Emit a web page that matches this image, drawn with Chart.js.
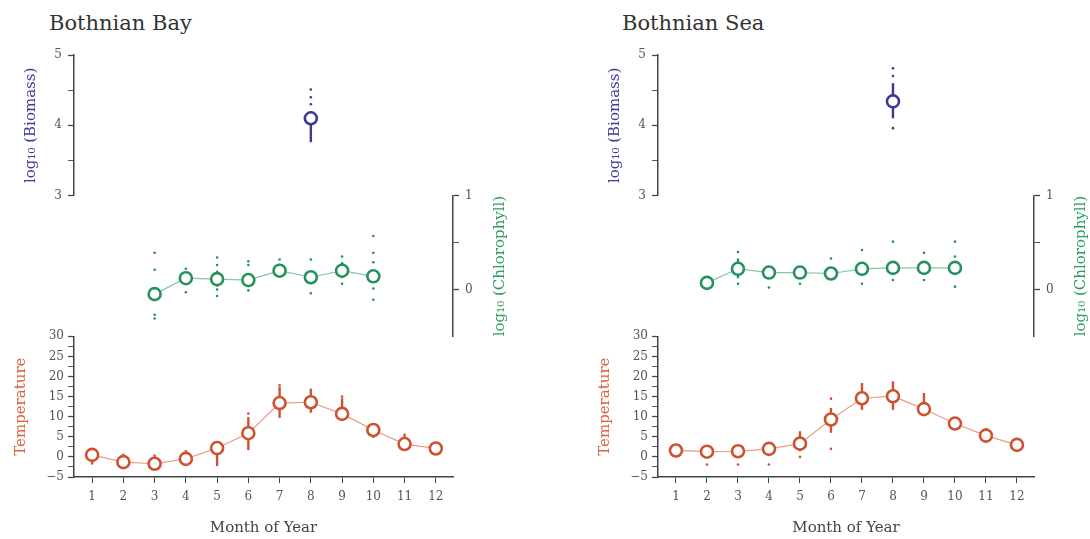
<!DOCTYPE html>
<html>
<head>
<meta charset="utf-8">
<script src="https://cdn.jsdelivr.net/npm/chart.js@4"></script>
<style>
  body { margin: 0; background: #fff; width: 1090px; height: 539px; overflow: hidden; position: relative; font-family: "DejaVu Serif", serif; }
  canvas { position: absolute; top: 0; }
  .titulo { position: absolute; top: 11px; font-size: 21px; color: #333; }
</style>
</head>
<body>
<div class="titulo" style="left:49px">Bothnian Bay</div>
<div class="titulo" style="left:622px">Bothnian Sea</div>
<canvas id="bay" width="545" height="539" style="left:0"></canvas>
<canvas id="sea" width="545" height="539" style="left:545px"></canvas>
<script>
// 1. DADOS
const meses = [1, 2, 3, 4, 5, 6, 7, 8, 9, 10, 11, 12];

// Bothnian Bay
const bayTemp   = [0.5, -1.3, -1.7, -0.5, 2.2, 5.9, 13.4, 13.6, 10.7, 6.7, 3.2, 2.1];
const bayTempLo = [-1.9, -2.5, -3.0, -1.5, -2.3, 1.7, 9.7, 11.0, 9.0, 4.7, 1.8, 0.8];
const bayTempHi = [1.8, 0.8, 0.6, 1.7, 3.9, 9.9, 17.4, 17.0, 14.6, 8.4, 5.8, 3.5];
const bayTempPts = [[6, 10.8], [7, 17.8], [9, 15.0]];

const bayChlMeses = [3, 4, 5, 6, 7, 8, 9, 10];
const bayChl   = [-0.05, 0.12, 0.11, 0.10, 0.20, 0.13, 0.20, 0.14];
const bayChlLo = [-0.09, 0.06, 0.03, 0.04, 0.15, 0.08, 0.12, 0.08];
const bayChlHi = [-0.01, 0.18, 0.20, 0.17, 0.26, 0.19, 0.28, 0.20];
const bayChlPts = [[3, 0.39], [3, 0.21], [3, -0.27], [3, -0.31], [4, 0.22], [4, -0.03],
  [5, 0.34], [5, 0.26], [5, 0.0], [5, -0.07], [6, 0.30], [6, 0.26], [6, -0.01],
  [7, 0.32], [7, 0.26], [8, 0.32], [8, -0.04], [9, 0.35], [9, 0.28], [9, 0.06],
  [10, 0.57], [10, 0.39], [10, 0.29], [10, 0.01], [10, -0.11]];

const bayBioMeses = [8];
const bayBio   = [4.10];
const bayBioLo = [3.76];
const bayBioHi = [4.20];
const bayBioPts = [[8, 4.30], [8, 4.40], [8, 4.51]];

// Bothnian Sea
const seaTemp   = [1.6, 1.3, 1.4, 2.0, 3.3, 9.3, 14.6, 15.1, 11.9, 8.3, 5.3, 3.0];
const seaTempLo = [0.2, 0.4, 0.4, 1.0, 1.4, 6.0, 11.7, 11.7, 10.5, 6.8, 3.6, 2.2];
const seaTempHi = [3.0, 2.5, 2.5, 3.0, 6.4, 12.2, 18.4, 18.8, 15.9, 9.9, 7.2, 4.3];
const seaTempPts = [[2, -1.9], [3, -1.9], [4, -1.9], [5, 0.0], [6, 14.5], [6, 2.0]];

const seaChlMeses = [2, 3, 4, 5, 6, 7, 8, 9, 10];
const seaChl   = [0.07, 0.22, 0.18, 0.18, 0.17, 0.22, 0.23, 0.23, 0.23];
const seaChlLo = [0.07, 0.12, 0.12, 0.12, 0.11, 0.16, 0.17, 0.16, 0.16];
const seaChlHi = [0.07, 0.33, 0.24, 0.24, 0.23, 0.28, 0.29, 0.30, 0.30];
const seaChlPts = [[3, 0.40], [3, 0.06], [4, 0.02], [5, 0.06], [6, 0.33], [7, 0.42], [7, 0.06],
  [8, 0.51], [8, 0.10], [9, 0.39], [9, 0.10], [10, 0.51], [10, 0.35], [10, 0.03]];

const seaBioMeses = [8];
const seaBio   = [4.34];
const seaBioLo = [4.10];
const seaBioHi = [4.60];
const seaBioPts = [[8, 4.70], [8, 4.81], [8, 3.96]];

// eixos
const tempTicks = [-5, 0, 5, 10, 15, 20, 25, 30];
const chlTicks = [0, 1];
const bioTicks = [3, 4, 5];

// cores
const AZUL = '#3b3b96';
const VERDE = '#23935a', VERDE_LINHA = '#86c8a2';
const VERMELHO = '#cc5230', VERMELHO_LINHA = '#eb9b82';
const EIXO = '#444';
const FONTE = '"DejaVu Serif", serif';

// Plugin: barras de erro (desenhadas antes dos pontos)
const barrasErro = {
  id: 'barrasErro',
  beforeDatasetsDraw(chart) {
    const ctx = chart.ctx;
    chart.data.datasets.forEach(ds => {
      if (!ds.errLo) return;
      const sx = chart.scales.x, sy = chart.scales[ds.yAxisID];
      ctx.save();
      ctx.strokeStyle = ds.pointBorderColor;
      ctx.lineWidth = 2.4;
      ds.data.forEach((p, j) => {
        const px = sx.getPixelForValue(p.x);
        ctx.beginPath();
        ctx.moveTo(px, sy.getPixelForValue(ds.errLo[j]));
        ctx.lineTo(px, sy.getPixelForValue(ds.errHi[j]));
        ctx.stroke();
      });
      ctx.restore();
    });
  }
};

// Plugin: títulos verticais dos eixos y (todos lidos de baixo para cima)
function titulosEixos(itens) {
  return {
    id: 'titulosEixos',
    afterDraw(chart) {
      const ctx = chart.ctx;
      itens.forEach(t => {
        const s = chart.scales[t.eixo];
        const x = t.lado === 'left' ? s.right - t.dist : s.left + t.dist;
        const y = (s.top + s.bottom) / 2;
        ctx.save();
        ctx.translate(x, y);
        ctx.rotate(-Math.PI / 2);
        ctx.font = '15px ' + FONTE;
        ctx.fillStyle = t.cor;
        ctx.textAlign = 'center';
        ctx.textBaseline = 'middle';
        ctx.fillText(t.texto, 0, 0);
        ctx.restore();
      });
    }
  };
}

function pares(xs, ys) {
  return xs.map((m, i) => ({ x: m, y: ys[i] }));
}

function serie(xs, ys, lo, hi, eixo, cor, corLinha) {
  return {
    type: 'line',
    data: pares(xs, ys),
    yAxisID: eixo,
    errLo: lo,
    errHi: hi,
    borderColor: corLinha,
    borderWidth: 1.2,
    pointBorderColor: cor,
    pointBackgroundColor: '#fff',
    pointBorderWidth: 2.6,
    pointRadius: 6,
    order: 1
  };
}

function pontos(lista, eixo, cor) {
  return {
    type: 'scatter',
    data: lista.map(p => ({ x: p[0], y: p[1] })),
    yAxisID: eixo,
    backgroundColor: cor,
    borderWidth: 0,
    pointRadius: 1.3,
    order: 2
  };
}

function eixoY(pos, peso, larg, extra) {
  return Object.assign({
    type: 'linear',
    position: pos,
    stack: 'pilha',
    weight: peso,
    afterFit: s => { s.width = larg; },
    border: { display: true, color: EIXO, width: 1.5 },
    grid: { drawOnChartArea: false, tickLength: 6, color: EIXO, tickWidth: 1 }
  }, extra);
}

function eixoVazio(pos, peso, larg) {
  return {
    type: 'linear', position: pos, stack: 'pilha', weight: peso, min: 0, max: 1,
    afterFit: s => { s.width = larg; },
    border: { display: false }, grid: { display: false }, ticks: { display: false }
  };
}

function ticksDe(passo, min, max) {
  const out = [];
  for (let v = min; v <= max + 1e-9; v += passo) out.push({ value: Math.round(v * 100) / 100 });
  return s => { s.ticks = out; };
}

function rotulo(lista) {
  return v => lista.includes(v) ? (v < 0 ? '\u2212' + Math.abs(v) : String(v)) : '';
}

function menor(lista) {
  return c => lista.includes(c.tick.value) ? 1.3 : 0.9;
}

const fonteTick = { family: FONTE, size: 12 };

function criarPainel(id, d, largEsq, largDir) {
  const ctx = document.getElementById(id).getContext('2d');
  return new Chart(ctx, {
    type: 'line',
    data: {
      datasets: [
        serie(meses, d.temp, d.tempLo, d.tempHi, 'yTemp', VERMELHO, VERMELHO_LINHA),
        pontos(d.tempPts, 'yTemp', VERMELHO),
        serie(d.chlMeses, d.chl, d.chlLo, d.chlHi, 'yChl', VERDE, VERDE_LINHA),
        pontos(d.chlPts, 'yChl', VERDE),
        serie(d.bioMeses, d.bio, d.bioLo, d.bioHi, 'yBio', AZUL, AZUL),
        pontos(d.bioPts, 'yBio', AZUL)
      ]
    },
    options: {
      responsive: false,
      animation: false,
      layout: { padding: { top: 55, left: 0, right: 0, bottom: 0 } },
      plugins: { legend: { display: false }, tooltip: { enabled: false } },
      scales: {
        x: {
          type: 'linear',
          min: 0.42,
          max: 12.55,
          afterBuildTicks: s => { s.ticks = meses.map(v => ({ value: v })); },
          afterFit: s => { s.height = 62; },
          border: { display: true, color: EIXO, width: 1.5 },
          grid: { drawOnChartArea: false, tickLength: 6, color: EIXO },
          ticks: { font: fonteTick, color: '#555', padding: 7 },
          title: { display: true, text: 'Month of Year', font: { family: FONTE, size: 15 }, color: '#444', padding: { top: 0, bottom: 2 } }
        },
        // pilha da esquerda: temperatura (baixo), vazio, biomassa (topo)
        yTemp: eixoY('left', 1, largEsq, {
          min: -5, max: 30,
          afterBuildTicks: ticksDe(2.5, -5, 30),
          ticks: { font: fonteTick, color: '#555', padding: 4, autoSkip: false, callback: rotulo(tempTicks) },
          grid: { drawOnChartArea: false, tickLength: 6, color: EIXO, tickWidth: menor(tempTicks) }
        }),
        yVazioE: eixoVazio('left', 2, largEsq),
        yBio: eixoY('left', 3, largEsq, {
          min: 3, max: 5,
          afterBuildTicks: ticksDe(0.5, 3, 5),
          ticks: { font: fonteTick, color: '#555', padding: 6, autoSkip: false, callback: rotulo(bioTicks) },
          grid: { drawOnChartArea: false, tickLength: 6, color: EIXO, tickWidth: menor(bioTicks) }
        }),
        // pilha da direita: vazio (topo), clorofila, vazio (baixo)
        yVazioD1: eixoVazio('right', 1, largDir),
        yChl: eixoY('right', 2, largDir, {
          min: -0.5, max: 1,
          afterBuildTicks: ticksDe(0.5, 0, 1),
          ticks: { font: fonteTick, color: '#555', padding: 6, autoSkip: false, callback: rotulo(chlTicks) },
          grid: { drawOnChartArea: false, tickLength: 6, color: EIXO, tickWidth: menor(chlTicks) }
        }),
        yVazioD2: eixoVazio('right', 3, largDir)
      }
    },
    plugins: [barrasErro, titulosEixos([
      { eixo: 'yBio', lado: 'left', dist: 43, cor: AZUL, texto: 'log\u2081\u2080 (Biomass)' },
      { eixo: 'yTemp', lado: 'left', dist: 53, cor: '#e0603a', texto: 'Temperature' },
      { eixo: 'yChl', lado: 'right', dist: 47, cor: '#2e9c60', texto: 'log\u2081\u2080 (Chlorophyll)' }
    ])]
  });
}

criarPainel('bay', {
  temp: bayTemp, tempLo: bayTempLo, tempHi: bayTempHi, tempPts: bayTempPts,
  chlMeses: bayChlMeses, chl: bayChl, chlLo: bayChlLo, chlHi: bayChlHi, chlPts: bayChlPts,
  bioMeses: bayBioMeses, bio: bayBio, bioLo: bayBioLo, bioHi: bayBioHi, bioPts: bayBioPts
}, 74, 92);

criarPainel('sea', {
  temp: seaTemp, tempLo: seaTempLo, tempHi: seaTempHi, tempPts: seaTempPts,
  chlMeses: seaChlMeses, chl: seaChl, chlLo: seaChlLo, chlHi: seaChlHi, chlPts: seaChlPts,
  bioMeses: seaBioMeses, bio: seaBio, bioLo: seaBioLo, bioHi: seaBioHi, bioPts: seaBioPts
}, 113, 56);
</script>
</body>
</html>
